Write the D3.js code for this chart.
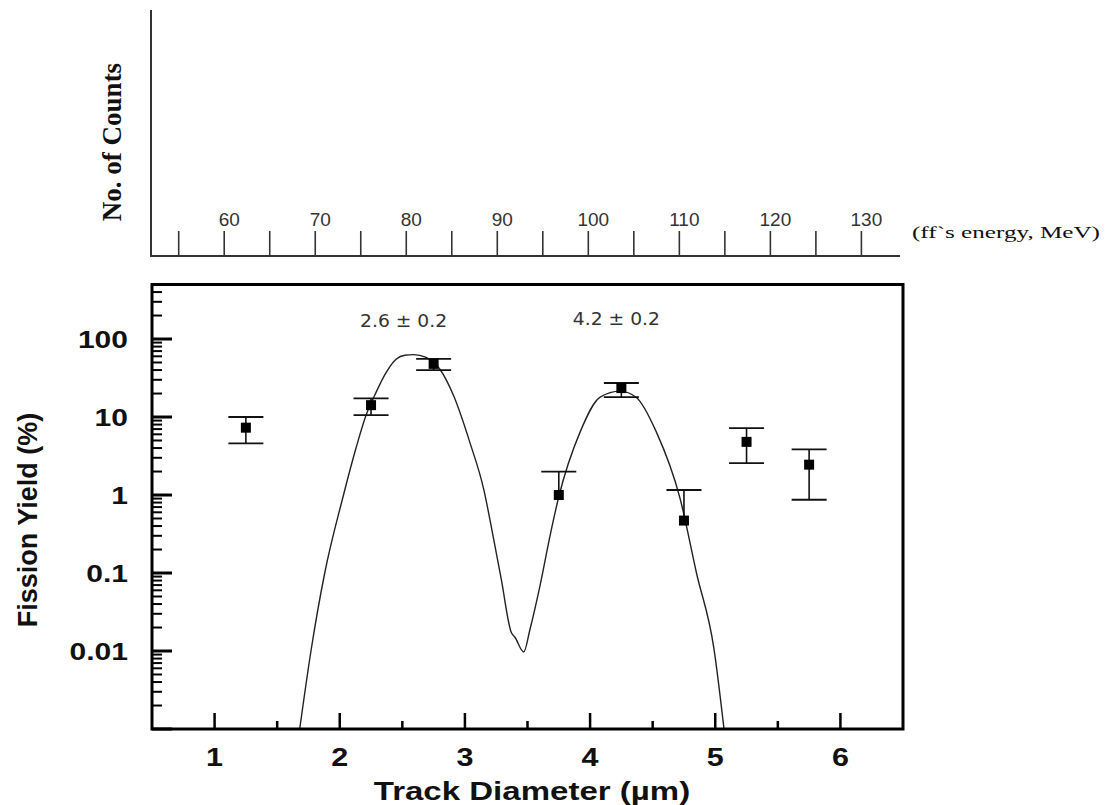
<!DOCTYPE html>
<html>
<head>
<meta charset="utf-8">
<script src="https://cdn.jsdelivr.net/npm/d3@7"></script>
<style>
  html, body { margin: 0; padding: 0; background: #fff; }
  svg { display: block; }
</style>
</head>
<body>
<svg id="chart" width="1108" height="805"></svg>
<script>
// ---------- data ----------
const pointX   = [1.25, 2.25, 2.75, 3.75, 4.25, 4.75, 5.25, 5.75];
const pointY   = [7.3, 14.2, 48, 1.0, 23.5, 0.47, 4.8, 2.45];
const errHigh  = [10, 17.3, 55.5, 2.0, 27.3, 1.16, 7.2, 3.85];
const errLow   = [4.6, 10.6, 40, 1.0, 18, 0.47, 2.57, 0.87];

const fitX = [1.68, 1.77, 1.88, 2.03, 2.13, 2.21, 2.29, 2.37, 2.45, 2.52, 2.59, 2.69, 2.80, 2.91, 3.04, 3.15, 3.23, 3.29, 3.37, 3.40, 3.47, 3.52, 3.60, 3.68, 3.75, 3.92, 4.08, 4.24, 4.37, 4.53, 4.72, 4.85, 4.99, 5.07];
const fitY = [0.001, 0.01, 0.1, 1.0, 4.0, 10.5, 20.7, 37, 55, 62, 63, 58, 41, 18.7, 4.7, 1.19, 0.27, 0.084, 0.0174, 0.015, 0.0097, 0.019, 0.069, 0.3, 0.95, 6.4, 18, 21.5, 17.8, 6.4, 0.89, 0.1, 0.0106, 0.001];

const xTicks = [1, 2, 3, 4, 5, 6];
const xMinorTicks = [1.5, 2.5, 3.5, 4.5, 5.5];
const yTickLabels = [100, 10, 1, 0.1, 0.01];
const yTickText = ["100", "10", "1", "0.1", "0.01"];

const energyTicks = [60, 70, 80, 90, 100, 110, 120, 130];
const energyMinorTicks = [55, 65, 75, 85, 95, 105, 115, 125];

const annotationText = ["2.6 \u00B1 0.2", "4.2 \u00B1 0.2"];
const annotationX = [2.51, 4.21];

// ---------- layout ----------
const svg = d3.select("#chart");
const L = 152, R = 903, T = 284.5, B = 729;

const x = d3.scaleLinear().domain([0.5, 6.5]).range([L, R]);
const y = d3.scaleLog().domain([0.001, 500]).range([B, T]);

function stretch(sel, f) {
  sel.each(function () {
    const w = this.getComputedTextLength();
    d3.select(this).attr("textLength", w * f).attr("lengthAdjust", "spacingAndGlyphs");
  });
}

// ---------- top (energy) axis ----------
const xe = d3.scaleLinear().domain([55, 130]).range([178.7, 861.4]);
const topG = svg.append("g");
topG.append("line").attr("x1", 151).attr("x2", 151).attr("y1", 10).attr("y2", 256)
  .attr("stroke", "#333").attr("stroke-width", 2);
topG.append("line").attr("x1", 150).attr("x2", 900).attr("y1", 256).attr("y2", 256)
  .attr("stroke", "#333").attr("stroke-width", 2);
topG.selectAll("line.et").data(energyTicks.concat(energyMinorTicks)).join("line")
  .attr("class", "et")
  .attr("x1", d => xe(d)).attr("x2", d => xe(d))
  .attr("y1", 231).attr("y2", 256)
  .attr("stroke", "#333").attr("stroke-width", 1.6);
topG.selectAll("text.el").data(energyTicks).join("text")
  .attr("class", "el")
  .attr("x", d => xe(d) + 5).attr("y", 226)
  .attr("text-anchor", "middle")
  .attr("font-family", "Liberation Sans, Arial, sans-serif")
  .attr("font-size", 19).attr("fill", "#333")
  .text(d => d);
topG.append("text").attr("x", 912).attr("y", 238)
  .attr("font-family", "Liberation Serif, Times New Roman, serif")
  .attr("font-size", 17).attr("fill", "#111")
  .text("(ff`s energy, MeV)")
  .call(sel => sel.attr("textLength", 188).attr("lengthAdjust", "spacingAndGlyphs"));
topG.append("text")
  .attr("transform", "translate(121,142) rotate(-90)")
  .attr("text-anchor", "middle")
  .attr("font-family", "Liberation Serif, Times New Roman, serif")
  .attr("font-weight", "bold")
  .attr("font-size", 27).attr("fill", "#111")
  .text("No. of Counts");

// ---------- main plot ----------
const g = svg.append("g");

svg.append("defs").append("clipPath").attr("id", "clip")
  .append("rect").attr("x", L).attr("y", T).attr("width", R - L).attr("height", B - T);

// fit curve
const line = d3.line()
  .x((d, i) => x(fitX[i]))
  .y((d, i) => y(fitY[i]))
  .curve(d3.curveMonotoneX);
g.append("path").datum(fitX)
  .attr("d", line)
  .attr("clip-path", "url(#clip)")
  .attr("fill", "none").attr("stroke", "#222").attr("stroke-width", 1.4);

// error bars
const idx = d3.range(pointX.length);
const eb = g.selectAll("g.eb").data(idx).join("g").attr("class", "eb");
eb.append("line")
  .attr("x1", i => x(pointX[i])).attr("x2", i => x(pointX[i]))
  .attr("y1", i => y(errHigh[i])).attr("y2", i => y(errLow[i]))
  .attr("stroke", "#111").attr("stroke-width", 1.6);
eb.append("line")
  .attr("x1", i => x(pointX[i]) - 17.5).attr("x2", i => x(pointX[i]) + 17.5)
  .attr("y1", i => y(errHigh[i])).attr("y2", i => y(errHigh[i]))
  .attr("stroke", "#111").attr("stroke-width", 1.8);
eb.filter(i => errLow[i] < pointY[i]).append("line")
  .attr("x1", i => x(pointX[i]) - 17.5).attr("x2", i => x(pointX[i]) + 17.5)
  .attr("y1", i => y(errLow[i])).attr("y2", i => y(errLow[i]))
  .attr("stroke", "#111").attr("stroke-width", 1.8);
eb.append("rect")
  .attr("x", i => x(pointX[i]) - 5).attr("y", i => y(pointY[i]) - 5)
  .attr("width", 10).attr("height", 10).attr("fill", "#000");

// frame
g.append("rect").attr("x", L).attr("y", T).attr("width", R - L).attr("height", B - T)
  .attr("fill", "none").attr("stroke", "#000").attr("stroke-width", 3);

// bottom axis ticks (inward)
g.selectAll("line.xt").data(xTicks).join("line").attr("class", "xt")
  .attr("x1", d => x(d)).attr("x2", d => x(d)).attr("y1", B).attr("y2", B - 16)
  .attr("stroke", "#000").attr("stroke-width", 2.5);
g.selectAll("line.xm").data(xMinorTicks).join("line").attr("class", "xm")
  .attr("x1", d => x(d)).attr("x2", d => x(d)).attr("y1", B).attr("y2", B - 8)
  .attr("stroke", "#000").attr("stroke-width", 2.5);
g.selectAll("text.xl").data(xTicks).join("text").attr("class", "xl")
  .attr("x", d => x(d)).attr("y", 766)
  .attr("text-anchor", "middle")
  .attr("font-family", "Liberation Sans, Arial, sans-serif")
  .attr("font-weight", "bold").attr("font-size", 25).attr("fill", "#111")
  .text(d => d)
  .call(stretch, 1.22);

// left axis ticks (inward), log
const yMajor = y.ticks().filter(d => Math.abs(Math.log10(d) - Math.round(Math.log10(d))) < 1e-9);
const yMinor = y.ticks().filter(d => yMajor.indexOf(d) < 0);
g.selectAll("line.ym").data(yMinor).join("line").attr("class", "ym")
  .attr("x1", L).attr("x2", L + 10).attr("y1", d => y(d)).attr("y2", d => y(d))
  .attr("stroke", "#000").attr("stroke-width", 2);
g.selectAll("line.yt").data(yMajor).join("line").attr("class", "yt")
  .attr("x1", L).attr("x2", L + 20).attr("y1", d => y(d)).attr("y2", d => y(d))
  .attr("stroke", "#000").attr("stroke-width", 3);
g.selectAll("text.yl").data(yTickLabels).join("text").attr("class", "yl")
  .attr("x", 128).attr("y", d => y(d) + 8.5)
  .attr("text-anchor", "end")
  .attr("font-family", "Liberation Sans, Arial, sans-serif")
  .attr("font-weight", "bold").attr("font-size", 24).attr("fill", "#111")
  .text((d, i) => yTickText[i])
  .call(stretch, 1.25);

// axis titles
g.append("text").attr("x", 532).attr("y", 800)
  .attr("text-anchor", "middle")
  .attr("font-family", "Liberation Sans, Arial, sans-serif")
  .attr("font-weight", "bold").attr("font-size", 26).attr("fill", "#111")
  .text("Track Diameter (\u00B5m)")
  .call(stretch, 1.27);
g.append("text")
  .attr("transform", "translate(37,520) rotate(-90)")
  .attr("text-anchor", "middle")
  .attr("font-family", "Liberation Sans, Arial, sans-serif")
  .attr("font-weight", "bold").attr("font-size", 27).attr("fill", "#111")
  .text("Fission Yield (%)");

// peak annotations
g.selectAll("text.ann").data(annotationText).join("text").attr("class", "ann")
  .attr("x", (d, i) => x(annotationX[i])).attr("y", (d, i) => i === 0 ? 327 : 325)
  .attr("text-anchor", "middle")
  .attr("font-family", "DejaVu Sans, Verdana, sans-serif")
  .attr("font-size", 18).attr("fill", "#333")
  .text(d => d)
  .call(stretch, 1.04);
</script>
</body>
</html>
